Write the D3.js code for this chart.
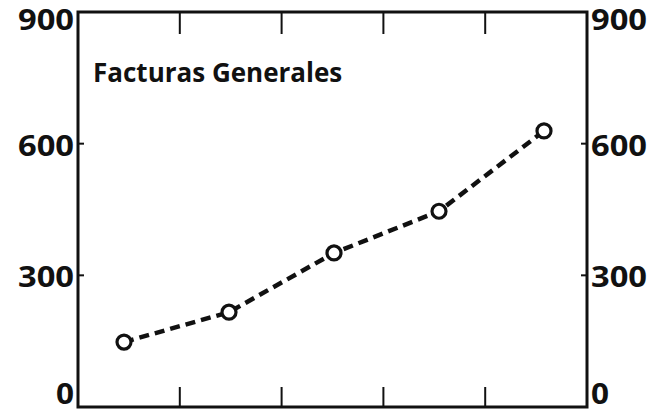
<!DOCTYPE html>
<html><head><meta charset="utf-8">
<script src="https://cdn.jsdelivr.net/npm/d3@7"></script>
<style>html,body{margin:0;padding:0;background:#fff;}svg{display:block;}</style>
</head><body>
<script>
const categories = ["P1","P2","P3","P4","P5"];
const values = [148, 216, 351, 446, 629];
const yTicks = [0, 300, 600, 900];
const yTickLabels = ["0","300","600","900"];
const title = "Facturas Generales";

const W = 657, H = 412;
const L = 78, R = 587, T = 12, B = 407;
const svg = d3.select("body").append("svg").attr("width", W).attr("height", H);

const y = d3.scaleLinear().domain([0, 900]).range([B, T]);
const xAxis = d3.scaleLinear().domain([0, categories.length]).range([L, R]);
const x = d3.scalePoint().domain(categories).range([124, 544]);

const font = "'Open Sans', 'DejaVu Sans', sans-serif";
const ink = "#111";

// frame
svg.append("rect").attr("x", L).attr("y", T).attr("width", R - L).attr("height", B - T)
  .attr("fill", "none").attr("stroke", ink).attr("stroke-width", 3);

// vertical ticks top & bottom
const xt = d3.range(1, categories.length);
svg.selectAll(".tt").data(xt).join("line")
  .attr("x1", d => xAxis(d)).attr("x2", d => xAxis(d))
  .attr("y1", T).attr("y2", T + 22).attr("stroke", ink).attr("stroke-width", 2);
svg.selectAll(".bt").data(xt).join("line")
  .attr("x1", d => xAxis(d)).attr("x2", d => xAxis(d))
  .attr("y1", B).attr("y2", B - 20).attr("stroke", ink).attr("stroke-width", 2);

// small y ticks
const inner = yTicks.filter(d => d > 0 && d < 900);
svg.selectAll(".ly").data(inner).join("line")
  .attr("x1", L).attr("x2", L + 6).attr("y1", d => y(d)).attr("y2", d => y(d))
  .attr("stroke", ink).attr("stroke-width", 2);
svg.selectAll(".ry").data(inner).join("line")
  .attr("x1", R).attr("x2", R - 6).attr("y1", d => y(d)).attr("y2", d => y(d))
  .attr("stroke", ink).attr("stroke-width", 2);

const lb = v => Math.max(30, Math.min(404, y(v) + 12));
const tw = s => s.length * 19;
// y labels left
svg.selectAll(".yl").data(yTicks).join("text")
  .attr("x", (d, i) => 75 - tw(yTickLabels[i])).attr("y", d => lb(d))
  .attr("textLength", (d, i) => tw(yTickLabels[i]) - 1).attr("lengthAdjust", "spacingAndGlyphs")
  .attr("font-family", font).attr("font-weight", 700).attr("font-size", 28)
  .attr("fill", ink).text((d, i) => yTickLabels[i]);
// y labels right
svg.selectAll(".yr").data(yTicks).join("text")
  .attr("x", 591).attr("y", d => lb(d))
  .attr("textLength", (d, i) => tw(yTickLabels[i]) - 1).attr("lengthAdjust", "spacingAndGlyphs")
  .attr("font-family", font).attr("font-weight", 700).attr("font-size", 28)
  .attr("fill", ink).text((d, i) => yTickLabels[i]);

// title
svg.append("text").attr("x", 93).attr("y", 82)
  .attr("font-family", font).attr("font-weight", 700).attr("font-size", 26)
  .attr("fill", ink).text(title);

// line
const pts = categories.map((c, i) => [x(c), y(values[i])]);
svg.append("path").attr("d", d3.line()(pts))
  .attr("fill", "none").attr("stroke", ink).attr("stroke-width", 4.5)
  .attr("stroke-dasharray", "10,6");

svg.selectAll(".pt").data(pts).join("circle")
  .attr("cx", d => d[0]).attr("cy", d => d[1]).attr("r", 7)
  .attr("fill", "#fff").attr("stroke", ink).attr("stroke-width", 3.2);
</script>
</body></html>
